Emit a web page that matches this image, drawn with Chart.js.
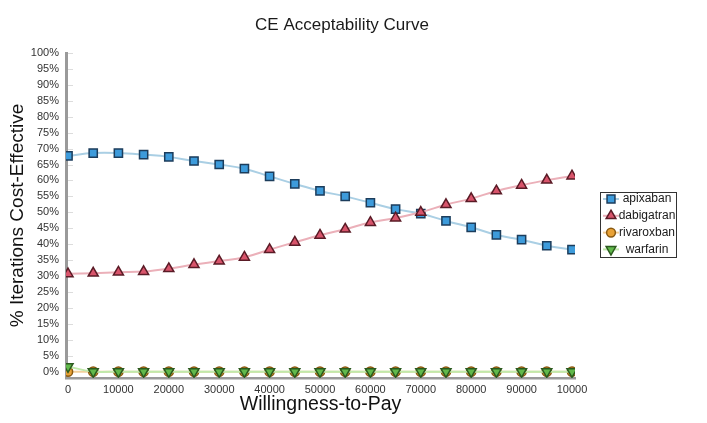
<!DOCTYPE html>
<html>
<head>
<meta charset="utf-8">
<script src="https://cdn.jsdelivr.net/npm/chart.js@4"></script>
<style>
  html, body { margin: 0; padding: 0; background: #fff; }
  #wrap { width: 707px; height: 423px; position: relative; }
</style>
</head>
<body>
<div id="wrap"><canvas id="ceac"></canvas></div>
<script>
// ---------- data ----------
const WTP = [0, 5000, 10000, 15000, 20000, 25000, 30000, 35000, 40000, 45000, 50000,
             55000, 60000, 65000, 70000, 75000, 80000, 85000, 90000, 95000, 100000];
const APIXABAN   = [67.7, 68.6, 68.6, 68.1, 67.4, 66.1, 65.0, 63.7, 61.3, 58.9, 56.7,
                    55.0, 53.0, 51.0, 49.6, 47.3, 45.3, 42.9, 41.4, 39.5, 38.3];
const DABIGATRAN = [30.7, 30.9, 31.2, 31.4, 32.3, 33.6, 34.7, 35.9, 38.3, 40.6, 42.8,
                    44.7, 46.8, 48.2, 50.0, 52.4, 54.3, 56.7, 58.5, 60.1, 61.4];
const RIVAROXBAN = [0, 0, 0, 0, 0, 0, 0, 0, 0, 0, 0, 0, 0, 0, 0, 0, 0, 0, 0, 0, 0];
const WARFARIN   = [1.6, 0, 0, 0, 0, 0, 0, 0, 0, 0, 0, 0, 0, 0, 0, 0, 0, 0, 0, 0, 0];

const X_TICKS = [0, 10000, 20000, 30000, 40000, 50000, 60000, 70000, 80000, 90000, 100000];
const X_TICK_LABELS = ['0', '10000', '20000', '30000', '40000', '50000', '60000', '70000', '80000', '90000', '10000'];
const Y_TICKS = [0, 5, 10, 15, 20, 25, 30, 35, 40, 45, 50, 55, 60, 65, 70, 75, 80, 85, 90, 95, 100];

const FONT = "'Liberation Sans', Arial, Helvetica, sans-serif";

const toXY = (vals) => vals.map((v, i) => ({ x: WTP[i], y: v }));

// series styling
function series(label, vals, fill, edge, line, style, extra) {
  return Object.assign({
    label: label,
    data: toXY(vals),
    borderColor: line,
    borderWidth: 2,
    backgroundColor: fill,
    pointBackgroundColor: fill,
    pointBorderColor: edge,
    pointBorderWidth: 1.5,
    pointStyle: style,
    pointRadius: 5.8,
    pointHoverRadius: 5.8,
    tension: 0.4,
    fill: false,
    _line: line,
  }, extra || {});
}

// ---------- small plugins: title, inner y ticks, boxed legend ----------
const titlePlugin = {
  id: 'ceTitle',
  afterDraw(chart) {
    const ctx = chart.ctx;
    ctx.save();
    ctx.font = '17px ' + FONT;
    ctx.fillStyle = '#1a1a1a';
    ctx.textAlign = 'center';
    ctx.textBaseline = 'middle';
    ctx.fillText('CE Acceptability Curve', 342, 25);
    ctx.restore();
  }
};

const innerTicks = {
  id: 'innerTicks',
  beforeDatasetsDraw(chart) {
    const ctx = chart.ctx, y = chart.scales.y, a = chart.chartArea;
    ctx.save();
    ctx.strokeStyle = '#dcdcdc';
    ctx.lineWidth = 1;
    Y_TICKS.forEach(v => {
      const py = Math.round(y.getPixelForValue(v)) + 0.5;
      ctx.beginPath();
      ctx.moveTo(a.left + 2, py);
      ctx.lineTo(a.left + 7, py);
      ctx.stroke();
    });
    ctx.restore();
  }
};

const boxLegend = {
  id: 'boxLegend',
  afterDraw(chart) {
    const ctx = chart.ctx;
    ctx.save();
    ctx.strokeStyle = '#333';
    ctx.lineWidth = 1;
    ctx.strokeRect(600.5, 192.5, 76, 65);
    chart.data.datasets.forEach((ds, i) => {
      const cy = 199 + i * 16.8;
      ctx.strokeStyle = ds._line;
      ctx.lineWidth = 2;
      ctx.beginPath();
      ctx.moveTo(603, cy);
      ctx.lineTo(619, cy);
      ctx.stroke();
      ctx.fillStyle = ds.pointBackgroundColor;
      ctx.strokeStyle = ds.pointBorderColor;
      ctx.lineWidth = 1.5;
      Chart.helpers.drawPoint(ctx, {
        pointStyle: ds.pointStyle,
        rotation: ds.pointRotation || 0,
        radius: ds.pointStyle === 'circle' ? 4.4 : 5.6,
        borderWidth: 1.5
      }, 611, cy);
      ctx.fillStyle = '#1a1a1a';
      ctx.font = '12px ' + FONT;
      ctx.textAlign = 'center';
      ctx.textBaseline = 'middle';
      ctx.fillText(ds.label, 647, cy);
    });
    ctx.restore();
  }
};

new Chart(document.getElementById('ceac'), {
  type: 'line',
  data: {
    datasets: [
      series('apixaban',   APIXABAN,   '#3d9bdb', '#1c3d5c', '#aacfe4', 'rect',     { order: 2 }),
      series('dabigatran', DABIGATRAN, '#d8546b', '#5a1b26', '#ebb0b9', 'triangle', { order: 1 }),
      series('rivaroxban', RIVAROXBAN, '#e9a236', '#8a5a12', '#f3d09c', 'circle',   { order: 4, pointRadius: 4.6 }),
      series('warfarin',   WARFARIN,   '#61b94b', '#2b5a1e', '#c0e9ab', 'triangle', { order: 3, pointRotation: 180 }),
    ]
  },
  options: {
    responsive: true,
    maintainAspectRatio: false,
    animation: false,
    layout: { padding: { top: 53, right: 132, left: 0, bottom: 0 } },
    plugins: {
      legend: { display: false },
      title: { display: false },
      tooltip: { enabled: false }
    },
    scales: {
      x: {
        type: 'linear',
        min: -400,
        max: 100600,
        afterFit: (s) => { s.height = 45; },
        afterBuildTicks: (s) => { s.ticks = X_TICKS.map(v => ({ value: v })); },
        grid: { display: false, drawTicks: false },
        border: { display: true, color: '#9a9a9a', width: 2.5 },
        ticks: {
          autoSkip: false,
          maxRotation: 0,
          padding: 5,
          color: '#333',
          font: { family: FONT, size: 11 },
          callback: (v, i) => X_TICK_LABELS[i]
        },
        title: {
          display: true,
          text: 'Willingness-to-Pay',
          color: '#111',
          font: { family: FONT, size: 19.5 },
          padding: { top: 0, bottom: 7 }
        }
      },
      y: {
        min: -2,
        max: 100,
        afterFit: (s) => { s.width = 66; },
        afterBuildTicks: (s) => { s.ticks = Y_TICKS.map(v => ({ value: v })); },
        grid: { display: false, drawTicks: false },
        border: { display: true, color: '#9a9a9a', width: 3 },
        ticks: {
          autoSkip: false,
          padding: 7,
          color: '#333',
          font: { family: FONT, size: 11 },
          callback: (v) => v + '%'
        },
        title: {
          display: true,
          text: '% Iterations Cost-Effective',
          color: '#111',
          font: { family: FONT, size: 19 },
          padding: { top: 6, bottom: 0 }
        }
      }
    }
  },
  plugins: [titlePlugin, innerTicks, boxLegend]
});
</script>
</body>
</html>
